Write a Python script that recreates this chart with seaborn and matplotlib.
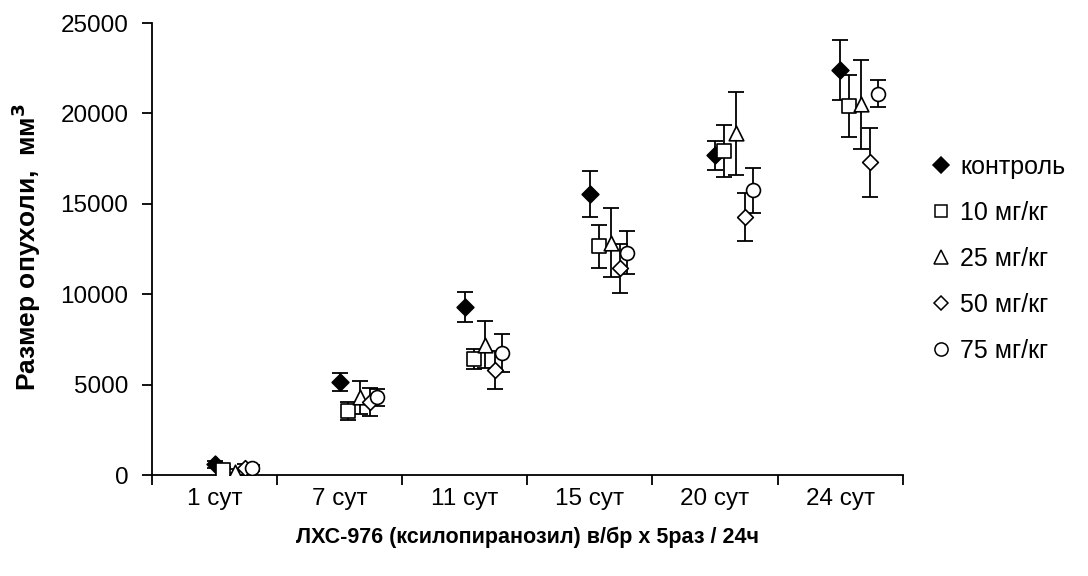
import numpy as np
import pandas as pd
import matplotlib
matplotlib.use("Agg")
import matplotlib.pyplot as plt
from matplotlib.lines import Line2D
import seaborn as sns

days = ['1 сут', '7 сут', '11 сут', '15 сут', '20 сут', '24 сут']
series_names = ['контроль', '10 мг/кг', '25 мг/кг', '50 мг/кг', '75 мг/кг']

control = [600, 5150, 9300, 15550, 17700, 22400]
control_err = [200, 500, 850, 1270, 800, 1650]
mg10 = [280, 3550, 6420, 12650, 17950, 20400]
mg10_err = [150, 500, 570, 1200, 1440, 1720]
mg25 = [170, 4300, 7200, 12850, 18900, 20500]
mg25_err = [150, 900, 1300, 1900, 2280, 2480]
mg50 = [420, 4050, 5800, 11450, 14300, 17300]
mg50_err = [200, 780, 1050, 1350, 1330, 1920]
mg75 = [400, 4300, 6750, 12300, 15750, 21100]
mg75_err = [150, 450, 1040, 1180, 1250, 740]

values = [control, mg10, mg25, mg50, mg75]
errors = [control_err, mg10_err, mg25_err, mg50_err, mg75_err]
offsets = [0.0, 0.07, 0.165, 0.24, 0.30]
markers = ['D', 's', '^', 'D', 'o']
sizes = [8.5, 9.5, 10.5, 8.0, 10.0]
faces = ['black', 'white', 'white', 'white', 'white']

sns.set_theme(style="white")
plt.rcParams['font.family'] = ['Liberation Sans', 'DejaVu Sans']
plt.rcParams['text.color'] = 'black'
plt.rcParams['axes.labelcolor'] = 'black'
plt.rcParams['xtick.color'] = 'black'
plt.rcParams['ytick.color'] = 'black'

fig = plt.figure(figsize=(10.88, 5.76), dpi=100)
ax = fig.add_axes([0.1397, 0.175, 0.69, 0.785])

rows = []
for name, vals, errs, off in zip(series_names, values, errors, offsets):
    for i, (v, e) in enumerate(zip(vals, errs)):
        rows.append({'series': name, 'x': i + off, 'y': v, 'err': e})
df = pd.DataFrame(rows)

for k, name in enumerate(series_names):
    d = df[df['series'] == name]
    ax.errorbar(d['x'], d['y'], yerr=d['err'], fmt='none', ecolor='black',
                elinewidth=1.3, capsize=5.5, capthick=1.3, zorder=2)
    sns.scatterplot(data=d, x='x', y='y', ax=ax, marker=markers[k],
                    s=sizes[k] ** 2, color=faces[k], edgecolor='black',
                    linewidth=1.2, zorder=3 + k, legend=False)

ax.set_xlim(-0.5, 5.5)
ax.set_ylim(0, 25000)
ax.set_xticks(range(len(days)))
ax.set_xticklabels(days, fontsize=17.5)
ax.set_xticks(np.arange(-0.5, 6.0, 1.0), minor=True)
ax.tick_params(axis='x', which='major', length=0, pad=9)
ax.tick_params(axis='x', which='minor', length=7, width=1.3, color='black',
               direction='out', bottom=True)
ax.set_yticks(range(0, 25001, 5000))
ax.tick_params(axis='y', which='major', length=7, width=1.3, color='black',
               direction='out', left=True, labelsize=17.5, pad=10)
for s in ['top', 'right']:
    ax.spines[s].set_visible(False)
for s in ['left', 'bottom']:
    ax.spines[s].set_color('black')
    ax.spines[s].set_linewidth(1.3)
ax.grid(False)

ax.set_xlabel('ЛХС-976 (ксилопиранозил) в/бр х 5раз / 24ч', fontsize=15.5,
              fontweight='bold')
ax.xaxis.set_label_coords(0.5, -0.115)
ax.set_ylabel('Размер опухоли,  мм$^\\mathbf{3}$', fontsize=19,
              fontweight='bold')
ax.yaxis.set_label_coords(-0.145, 0.505)

handles = []
for k, name in enumerate(series_names):
    handles.append(Line2D([], [], linestyle='none', marker=markers[k],
                          markersize=sizes[k] * 0.95, markerfacecolor=faces[k],
                          markeredgecolor='black', markeredgewidth=1.1,
                          label=name))
fig.legend(handles=handles, loc='upper left', bbox_to_anchor=(0.849, 0.748),
           frameon=False, fontsize=18, labelspacing=0.88, handlelength=0.6,
           handletextpad=0.45, borderaxespad=0)

fig.savefig('out.png', dpi=100)
